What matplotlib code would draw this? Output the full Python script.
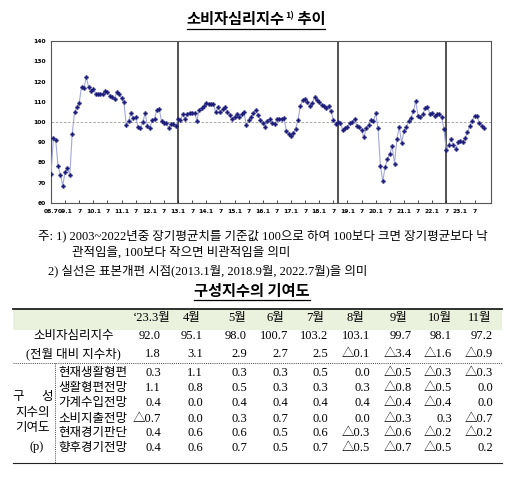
import matplotlib
matplotlib.use('Agg')
import matplotlib.pyplot as plt
from matplotlib.patches import Rectangle

# 소비자심리지수, 2008.7 ~ 2023.11 (monthly)
ccsi = [
    74.1, 91.9, 91.1, 78.2, 74.0, 68.5,
    75.4, 77.1, 74.0, 93.9, 104.8, 107.3, 109.6, 117.5, 117.0, 122.1, 117.2, 115.5,
    116.3, 113.9, 113.9, 113.6, 113.7, 115.4, 115.0, 112.9, 112.3, 111.5, 114.7, 113.6,
    111.9, 109.7, 98.4, 100.6, 104.3, 101.8, 102.3, 97.7, 96.9, 100.0, 104.2, 98.0,
    96.9, 101.0, 101.6, 106.0, 106.3, 100.3, 99.3, 99.3, 97.2, 98.8, 99.1, 98.0,
    101.3, 101.0, 103.8, 101.3, 104.1, 104.6, 104.6, 104.5, 100.7, 105.9, 107.1, 107.9,
    109.2, 108.7, 108.9, 108.9, 104.8, 107.3, 104.8, 106.6, 107.6, 105.0, 103.5, 101.3,
    102.6, 103.8, 102.3, 104.0, 105.1, 98.3, 100.8, 102.3, 104.6, 105.9, 103.5, 101.0,
    99.7, 97.7, 100.7, 101.3, 99.3, 98.8, 101.3, 101.7, 101.7, 101.8, 95.8, 94.1,
    93.3, 94.4, 96.7, 101.2, 108.0, 111.1, 111.2, 109.9, 107.7, 109.2, 112.3, 110.9,
    109.9, 108.2, 108.1, 107.1, 107.9, 105.5, 101.0, 99.2, 100.0, 99.5, 96.0, 97.2,
    97.5, 99.5, 99.8, 101.6, 97.9, 97.5, 95.9, 92.5, 96.9, 98.6, 101.0, 100.4,
    104.2, 96.9, 78.4, 70.8, 77.6, 81.8, 84.2, 88.2, 79.4, 91.6, 97.6, 89.8,
    95.4, 97.4, 100.5, 102.2, 105.2, 110.3, 103.2, 102.5, 103.8, 106.8, 107.6, 103.9,
    104.4, 103.1, 103.8, 103.8, 102.6, 96.4, 86.0, 88.8, 91.4, 88.8, 86.5, 89.9,
    90.7, 90.2, 92.0, 95.1, 98.0, 100.7, 103.2, 103.1, 99.7, 98.1, 97.2,
]
# 표본개편 시점: 2013.1, 2018.9, 2022.7
breaks = [54, 122, 168]
x_labels = ['08.7', '09.1', '7', '10.1', '7', '11.1', '7', '12.1', '7', '13.1', '7',
            '14.1', '7', '15.1', '7', '16.1', '7', '17.1', '7', '18.1', '7', '19.1', '7',
            '20.1', '7', '21.1', '7', '22.1', '7', '23.1', '7']

# table
cols = ['‘23.3월', '4월', '5월', '6월', '7월', '8월', '9월', '10월', '11월']
main_vals = [92.0, 95.1, 98.0, 100.7, 103.2, 103.1, 99.7, 98.1, 97.2]
diff_vals = [1.8, 3.1, 2.9, 2.7, 2.5, -0.1, -3.4, -1.6, -0.9]
comp_names = ['현재생활형편', '생활형편전망', '가계수입전망', '소비지출전망', '현재경기판단', '향후경기전망']
comp_vals = [
    [0.3, 1.1, 0.3, 0.3, 0.5, 0.0, -0.5, -0.3, -0.3],
    [1.1, 0.8, 0.5, 0.3, 0.3, 0.3, -0.8, -0.5, 0.0],
    [0.4, 0.0, 0.4, 0.4, 0.4, 0.4, -0.4, -0.4, 0.0],
    [-0.7, 0.0, 0.3, 0.7, 0.0, 0.0, -0.3, 0.3, -0.7],
    [0.4, 0.6, 0.6, 0.5, 0.6, -0.3, -0.6, -0.2, -0.2],
    [0.4, 0.6, 0.7, 0.5, 0.7, -0.5, -0.7, -0.5, 0.2],
]

KR = ['Noto Sans CJK KR', 'DejaVu Sans']
SERIF = ['Liberation Serif', 'Noto Sans CJK KR', 'DejaVu Sans']


def fmt(v):
    return '△%.1f' % abs(v) if v < 0 else '%.1f' % v


fig = plt.figure(figsize=(5.29, 4.96), dpi=100)

# ---- line chart
ax = fig.add_axes([51 / 529, 1 - 203 / 496, 440 / 529, 162 / 496])
ax.plot(range(len(ccsi)), ccsi, color='#a3a8da', lw=0.8, marker='P', ms=2.8,
        mfc='#1b1b78', mec='#1b1b78', mew=0.3, zorder=3)
ax.axhline(100, color='#9a9a9a', lw=0.6, ls=(0, (3, 2)), zorder=1)
for b in breaks:
    ax.axvline(b, color='#222222', lw=1.1, zorder=2)
ax.set_xlim(0, 187)
ax.set_ylim(60, 140)
ax.set_yticks(range(60, 141, 10))
ax.set_yticklabels([str(v) for v in range(60, 141, 10)], fontsize=4.3, fontweight='bold')
ax.set_xticks(range(0, len(ccsi), 6))
ax.set_xticklabels(x_labels, fontsize=4.3, fontweight='bold')
ax.tick_params(axis='x', direction='in', length=2, width=0.5, pad=4)
ax.tick_params(axis='y', direction='in', length=0, pad=3.5)
for s in ax.spines.values():
    s.set_color('#555555')
    s.set_linewidth(0.8)

# ---- overlay in pixel coordinates for titles, notes and table
ov = fig.add_axes([0, 0, 1, 1])
ov.set_xlim(0, 529)
ov.set_ylim(496, 0)
ov.axis('off')
ov.patch.set_visible(False)
renderer = fig.canvas.get_renderer()


def title(parts, xc, y, uy):
    texts = []
    for s, size, dy in parts:
        texts.append(ov.text(0, y + dy, s, fontsize=size, fontweight='bold', family=KR,
                             va='center', ha='left'))
    widths = [t.get_window_extent(renderer).width for t in texts]
    x0 = xc - sum(widths) / 2
    x = x0
    for t, w in zip(texts, widths):
        t.set_x(x)
        x += w
    ov.plot([x0, x], [uy, uy], color='black', lw=0.9)


title([('소비자심리지수', 11, 0), ('1)', 6.5, -3), (' 추이', 11, 0)], 256, 19, 28.5)

ov.text(38, 236, '주: 1) 2003~2022년중 장기평균치를 기준값 100으로 하여 100보다 크면 장기평균보다 낙',
        fontsize=9, family=SERIF, va='center')
ov.text(72, 253, '관적임을, 100보다 작으면 비관적임을 의미', fontsize=9, family=SERIF, va='center')
ov.text(48, 271, '2) 실선은 표본개편 시점(2013.1월, 2018.9월, 2022.7월)을 의미',
        fontsize=9, family=SERIF, va='center')

title([('구성지수의 기여도', 11, 0)], 252, 291, 299.5)

# table
left, right = 13, 502
head_x = [152, 192, 237, 275, 315, 355, 398, 440, 480]
val_x = [161, 203, 247, 288, 328, 370, 412, 452, 493]
FS = 9
ov.add_patch(Rectangle((left, 309), right - left, 21, color='#eaf1dd', lw=0, zorder=0))
ov.plot([left, right], [308.5, 308.5], color='#222222', lw=1.3)
ov.plot([left, right], [463, 463], color='#222222', lw=0.8)
ov.plot([left, right], [363, 363], color='#444444', lw=0.7, ls=(0, (1, 1.2)))
ov.plot([55, 55], [363, 463], color='#444444', lw=0.7, ls=(0, (1, 1.2)))

for c, hx in zip(cols, head_x):
    ov.text(hx, 318, c, fontsize=FS, family=SERIF, ha='center', va='center')

ov.text(74, 336, '소비자심리지수', fontsize=FS, family=SERIF, ha='center', va='center')
ov.text(73, 354, '(전월 대비 지수차)', fontsize=FS, family=SERIF, ha='center', va='center')
for v, vx in zip(main_vals, val_x):
    ov.text(vx, 336, fmt(v), fontsize=FS, family=SERIF, ha='right', va='center')
for v, vx in zip(diff_vals, val_x):
    ov.text(vx, 354, fmt(v), fontsize=FS, family=SERIF, ha='right', va='center')

row_y = [372.7, 388, 403.3, 419, 433.3, 447.7]
for name, vals, ry in zip(comp_names, comp_vals, row_y):
    ov.text(58, ry, name, fontsize=FS, family=SERIF, ha='left', va='center')
    for v, vx in zip(vals, val_x):
        ov.text(vx, ry, fmt(v), fontsize=FS, family=SERIF, ha='right', va='center')

ov.text(18, 396.7, '구', fontsize=FS, family=SERIF, ha='center', va='center')
ov.text(47, 396.7, '성', fontsize=FS, family=SERIF, ha='center', va='center')
ov.text(33, 412.7, '지수의', fontsize=FS, family=SERIF, ha='center', va='center')
ov.text(33, 428.3, '기여도', fontsize=FS, family=SERIF, ha='center', va='center')
ov.text(37, 446.7, '(p)', fontsize=FS, family=SERIF, ha='center', va='center')

fig.savefig('out.png', dpi=100)
